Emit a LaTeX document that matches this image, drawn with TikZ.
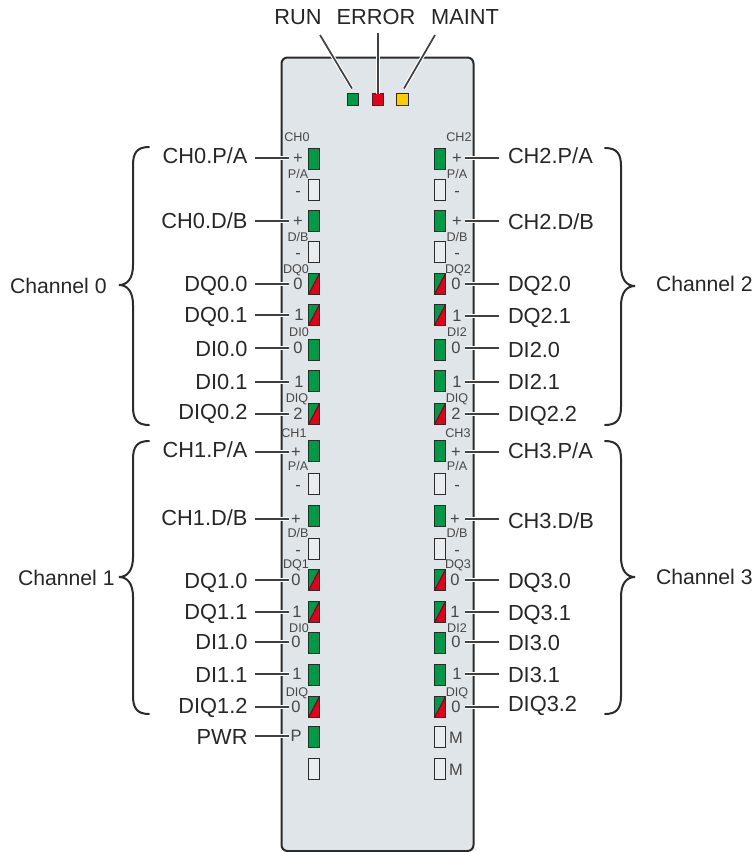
\documentclass[tikz,border=0pt]{standalone}
\usepackage{fontspec}
\setmainfont{Liberation Sans}
\definecolor{bodyc}{HTML}{E0E5E9}
\definecolor{edgec}{HTML}{2B2B2B}
\definecolor{ledg}{HTML}{009A47}
\definecolor{ledr}{HTML}{E2001A}
\definecolor{ledy}{HTML}{FFCC00}
\definecolor{ledo}{HTML}{E9EDF0}
\definecolor{inkc}{HTML}{262626}
\definecolor{linec}{HTML}{404040}
\tikzset{
  moduleb/.style={draw=edgec,fill=bodyc,line width=2pt,rounded corners=6pt},
  ledbase/.style={draw=edgec,line width=1.4pt,minimum width=11pt,minimum height=21pt,inner sep=0pt,outer sep=0pt},
  Lg/.style={ledbase,fill=ledg},
  Lo/.style={ledbase,fill=ledo},
  Ls/.style={ledbase,path picture={
    \fill[ledg] (path picture bounding box.south west)--(path picture bounding box.north west)--(path picture bounding box.north east)--cycle;
    \fill[ledr] (path picture bounding box.south west)--(path picture bounding box.south east)--(path picture bounding box.north east)--cycle;
    \draw[edgec,line width=1.1pt] (path picture bounding box.south west)--(path picture bounding box.north east);}},
  statusled/.style={draw=edgec,line width=1.2pt,minimum width=11.5pt,minimum height=11.5pt,inner sep=0pt,outer sep=0pt},
  biglab/.style={font=\fontsize{21.8}{22}\selectfont,text=inkc,text height=15.6pt,text depth=0pt,inner ysep=0pt,outer sep=0pt},
  chanlab/.style={biglab,font=\fontsize{21.2}{22}\selectfont,anchor=west,inner xsep=0pt},
  signlab/.style={font=\fontsize{16.5}{17}\selectfont,text=inkc!85,text height=11.8pt,text depth=0pt,inner sep=0pt,outer sep=0pt,align=center},
  smalllab/.style={font=\fontsize{12.6}{13}\selectfont,text=inkc!85,text height=9pt,text depth=0pt,inner sep=0pt,outer sep=0pt},
  conn/.style={linec,line width=1.7pt,preaction={draw=white,line width=3.8pt}},
  bracel/.style={draw=edgec,line width=2pt,line cap=round},
}
% #1 name, #2 sign, #3 sign x, #4 line y, #5 label, #6 label y
\newcommand\lrow[6]{%
  \node[signlab,minimum width={2*(#3-289)},anchor=center] (s#1) at (#3,#4) {#2};
  \node[biglab,anchor=east,inner xsep=7.5pt] (l#1) at (255,#6) {#5};
  \draw[conn] (s#1.west -| l#1.east) -- (s#1.west);
}
\newcommand\rrow[6]{%
  \node[signlab,minimum width={2*(465-#3)},anchor=center] (s#1) at (#3,#4) {#2};
  \node[biglab,anchor=west,inner xsep=9pt] (l#1) at (499,#6) {#5};
  \draw[conn] (s#1.east -| l#1.west) -- (s#1.east);
}
% #1 tip side sign (+1 left, -1 right), #2 tip x, #3 top, #4 tip y, #5 bottom
\newcommand\bracket[5]{%
  \draw[bracel] ({#2+30*#1},#3) .. controls ({#2+18*#1},#3) and ({#2+14*#1},{#3+6}) .. ({#2+14*#1},{#3+18})
    -- ({#2+14*#1},{#4-20}) .. controls ({#2+14*#1},{#4-6}) and ({#2+8*#1},#4) .. (#2,#4)
    .. controls ({#2+8*#1},#4) and ({#2+14*#1},{#4+6}) .. ({#2+14*#1},{#4+20})
    -- ({#2+14*#1},{#5-18}) .. controls ({#2+14*#1},{#5-6}) and ({#2+18*#1},#5) .. ({#2+30*#1},#5);
}
\begin{document}
\begin{tikzpicture}[x=1pt,y=-1pt]
\useasboundingbox (0,0) rectangle (755,852);
\path[moduleb] (281.5,57.5) rectangle (473.5,851);

% status LEDs
\node[statusled,fill=ledg] (run) at (353,99.5) {};
\node[statusled,fill=ledr] (err) at (378,99.5) {};
\node[statusled,fill=ledy] (mnt) at (402.5,99.5) {};
\node[biglab,anchor=center] (trun) at (298,17) {RUN};
\node[biglab,anchor=center] (terr) at (376,17) {ERROR};
\node[biglab,anchor=center] (tmnt) at (465,17) {MAINT};
\coordinate (crun) at (320,35);
\coordinate (cerr) at (378,33);
\coordinate (cmnt) at (435,35);
\draw[conn] (crun) -- (352,88.5);
\draw[conn] (cerr) -- (err.north);
\draw[conn] (cmnt) -- (404,88.5);

% channel LEDs
\foreach \yy/\st in {159/Lg,190/Lo,221/Lg,252/Lo,284/Ls,315/Ls,350/Lg,381/Lg,414/Ls,451/Lg,484/Lo,516/Lg,549/Lo,580/Ls,612/Ls,643/Lg,675/Lg,707/Ls,737/Lg,769/Lo}
  \node[\st] (L\yy) at (314,\yy) {};
\foreach \yy/\st in {159/Lg,190/Lo,221/Lg,252/Lo,284/Ls,315/Ls,350/Lg,381/Lg,414/Ls,451/Lg,484/Lo,516/Lg,549/Lo,580/Ls,612/Ls,643/Lg,675/Lg,707/Ls,737/Lo,769/Lo}
  \node[\st] (R\yy) at (440,\yy) {};

% left rows with connector
\lrow{a1}{+}{298}{158}{CH0.P/A}{156}
\lrow{a2}{+}{298}{221}{CH0.D/B}{221}
\lrow{a3}{0}{298}{284}{DQ0.0}{284}
\lrow{a4}{1}{299}{315}{DQ0.1}{315}
\lrow{a5}{0}{298}{348}{DI0.0}{349}
\lrow{a6}{1}{299}{382}{DI0.1}{382}
\lrow{a7}{2}{298}{414}{DIQ0.2}{412}
\lrow{a8}{+}{296}{452}{CH1.P/A}{450}
\lrow{a9}{+}{296}{519}{CH1.D/B}{518}
\lrow{a10}{0}{296}{580}{DQ1.0}{581}
\lrow{a11}{1}{297}{612}{DQ1.1}{612}
\lrow{a12}{0}{296}{642}{DI1.0}{642}
\lrow{a13}{1}{297}{674}{DI1.1}{675}
\lrow{a14}{0}{296}{707}{DIQ1.2}{706}
\lrow{a15}{P}{296}{736}{PWR}{737}

% right rows with connector
\rrow{b1}{+}{457}{158}{CH2.P/A}{156}
\rrow{b2}{+}{457}{221}{CH2.D/B}{222}
\rrow{b3}{0}{456}{284}{DQ2.0}{284}
\rrow{b4}{1}{457}{316}{DQ2.1}{316}
\rrow{b5}{0}{456}{348}{DI2.0}{350}
\rrow{b6}{1}{457}{382}{DI2.1}{382}
\rrow{b7}{2}{456}{414}{DIQ2.2}{414}
\rrow{b8}{+}{456}{452}{CH3.P/A}{451}
\rrow{b9}{+}{455}{519}{CH3.D/B}{521}
\rrow{b10}{0}{455}{580}{DQ3.0}{581}
\rrow{b11}{1}{455}{612}{DQ3.1}{613}
\rrow{b12}{0}{456}{642}{DI3.0}{643}
\rrow{b13}{1}{457}{674}{DI3.1}{675}
\rrow{b14}{0}{456}{707}{DIQ3.2}{704}

% signs without connector
\foreach \xx/\yy/\tt [count=\i] in {298/191/-,298/253/-,457/191/-,457/253/-,298/485/-,457/485/-,298/550/-,457/550/-,456/738/M,456/770/M}
  \node[signlab] (m\i) at (\xx,\yy) {\tt};

% small captions
\foreach \xx/\yy/\tt [count=\i] in {
  297/137/CH0,459/137/CH2,298/174/{P/A},457/174/{P/A},298/237/{D/B},457/237/{D/B},
  296/269/DQ0,458/269/DQ2,299/332/DI0,457/332/DI2,297/398/DIQ,457/398/DIQ,
  294/433/CH1,458/433/CH3,298/466/{P/A},457/466/{P/A},298/533/{D/B},457/533/{D/B},
  296/564/DQ1,458/564/DQ3,299/628/DI0,457/628/DI2,297/692/DIQ,457/692/DIQ}
  \node[smalllab] (c\i) at (\xx,\yy) {\tt};

% braces
\bracket{1}{119}{147}{285}{425}
\bracket{1}{119}{441}{577}{714}
\bracket{-1}{635}{148}{286}{425}
\bracket{-1}{635}{441}{577}{714}
\node[chanlab] (ch0) at (10,286) {Channel 0};
\node[chanlab] (ch1) at (18,578) {Channel 1};
\node[chanlab] (ch2) at (656,284) {Channel 2};
\node[chanlab] (ch3) at (656,577) {Channel 3};
\end{tikzpicture}
\end{document}
